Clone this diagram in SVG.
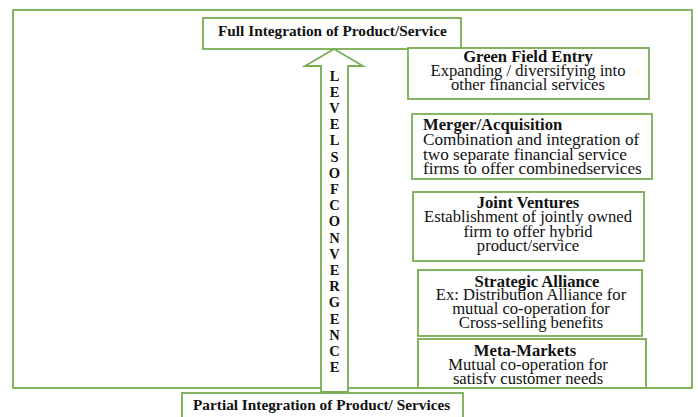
<svg xmlns="http://www.w3.org/2000/svg" width="698" height="417" viewBox="0 0 698 417">
  <style>
    .box { fill: #ffffff; stroke: #78ad52; stroke-width: 1.8; }
    .frame { fill: none; stroke: #78ad52; stroke-width: 1.8; }
    text { font-family: "Liberation Serif", "Times New Roman", "DejaVu Serif", serif; fill: #111111; }
    .t { font-size: 16.6px; font-weight: bold; }
    .b { font-size: 16.6px; }
    .m { font-size: 17.2px; }
    .lbl { font-size: 15.3px; font-weight: bold; }
    .ltr { font-size: 14.5px; font-weight: bold; text-anchor: middle; }
    .c { text-anchor: middle; }
  </style>

  <!-- outer frame -->
  <rect class="frame" x="13" y="10" width="679" height="378"/>

  <!-- top level -->
  <g id="full-integration">
    <rect class="box" x="203" y="18" width="258" height="31"/>
    <text class="lbl" x="218" y="36">Full Integration of Product/Service</text>
  </g>

  <!-- rising arrow with its vertical caption -->
  <g id="connectors">
    <polygon class="box" points="334,49 363,66 348,66 348,392 321,392 321,66 305,66"/>
  </g>
  <g id="levels-of-convergence">
    <text class="ltr" x="334.5" y="80.5">L</text>
    <text class="ltr" x="334.5" y="96.7">E</text>
    <text class="ltr" x="334.5" y="112.9">V</text>
    <text class="ltr" x="334.5" y="129.1">E</text>
    <text class="ltr" x="334.5" y="145.3">L</text>
    <text class="ltr" x="334.5" y="161.5">S</text>
    <text class="ltr" x="334.5" y="177.7">O</text>
    <text class="ltr" x="334.5" y="193.9">F</text>
    <text class="ltr" x="334.5" y="210.1">C</text>
    <text class="ltr" x="334.5" y="226.3">O</text>
    <text class="ltr" x="334.5" y="242.5">N</text>
    <text class="ltr" x="334.5" y="258.7">V</text>
    <text class="ltr" x="334.5" y="274.9">E</text>
    <text class="ltr" x="334.5" y="291.1">R</text>
    <text class="ltr" x="334.5" y="307.3">G</text>
    <text class="ltr" x="334.5" y="323.5">E</text>
    <text class="ltr" x="334.5" y="339.7">N</text>
    <text class="ltr" x="334.5" y="355.9">C</text>
    <text class="ltr" x="334.5" y="372.1">E</text>
  </g>

  <!-- bottom level -->
  <g id="partial-integration">
    <rect class="box" x="182" y="393" width="281" height="30"/>
    <text class="lbl" x="193" y="410">Partial Integration of Product/ Services</text>
  </g>

  <!-- convergence strategies -->
  <g id="green-field-entry">
    <rect class="box" x="408" y="48" width="241" height="51"/>
    <text class="t c" x="528" y="62">Green Field Entry</text>
    <text class="b c" x="528" y="76">Expanding / diversifying into</text>
    <text class="b c" x="528" y="90">other financial services</text>
  </g>

  <g id="merger-acquisition">
    <rect class="box" x="412" y="114" width="240" height="65"/>
    <text class="t" x="423" y="130">Merger/Acquisition</text>
    <text class="m" x="423" y="145">Combination and integration of</text>
    <text class="m" x="423" y="159.5">two separate financial service</text>
    <text class="m" x="423" y="174">firms to offer combinedservices</text>
  </g>

  <g id="joint-ventures">
    <rect class="box" x="413" y="192" width="231" height="69"/>
    <text class="t c" x="528" y="208">Joint Ventures</text>
    <text class="b c" x="528" y="222">Establishment of jointly owned</text>
    <text class="b c" x="528" y="237">firm to offer hybrid</text>
    <text class="b c" x="528" y="251">product/service</text>
  </g>

  <g id="strategic-alliance">
    <rect class="box" x="418" y="270" width="224" height="66"/>
    <text class="t c" x="537" y="287">Strategic Alliance</text>
    <text class="b c" x="531" y="300">Ex: Distribution Alliance for</text>
    <text class="b c" x="531" y="314">mutual co-operation for</text>
    <text class="b c" x="531" y="328">Cross-selling benefits</text>
  </g>

  <g id="meta-markets">
    <rect class="box" x="418" y="339" width="228" height="49"/>
    <text class="t c" x="525" y="356">Meta-Markets</text>
    <text class="b c" x="528" y="370">Mutual co-operation for</text>
    <text class="b c" x="528" y="384">satisfv customer needs</text>
  </g>
</svg>
